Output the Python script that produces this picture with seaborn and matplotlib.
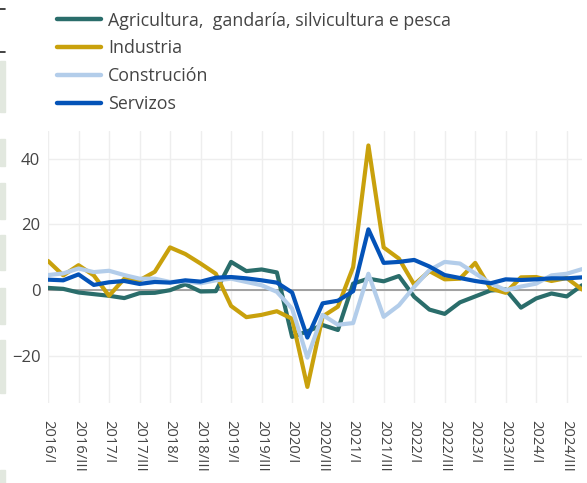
import numpy as np
import pandas as pd
import matplotlib
matplotlib.use("Agg")
import matplotlib.pyplot as plt
import matplotlib.transforms as mtransforms
from matplotlib.patches import Rectangle
from matplotlib.lines import Line2D
import seaborn as sns

quarters = [
    "2016/I", "2016/II", "2016/III", "2016/IV",
    "2017/I", "2017/II", "2017/III", "2017/IV",
    "2018/I", "2018/II", "2018/III", "2018/IV",
    "2019/I", "2019/II", "2019/III", "2019/IV",
    "2020/I", "2020/II", "2020/III", "2020/IV",
    "2021/I", "2021/II", "2021/III", "2021/IV",
    "2022/I", "2022/II", "2022/III", "2022/IV",
    "2023/I", "2023/II", "2023/III", "2023/IV",
    "2024/I", "2024/II", "2024/III", "2024/IV",
]
tick_labels = quarters[::2]

agricultura = [0.7, 0.4, -0.7, -1.2, -1.7, -2.4, -0.9, -0.8, 0.0, 1.8, -0.4, -0.3,
               8.6, 5.8, 6.3, 5.4, -14.2, -12.5, -10.6, -12.1, 2.0, 3.5,
               2.7, 4.3, -2.0, -5.9, -7.2, -3.7, -1.9, -0.1, 0.2, -5.3,
               -2.5, -1.0, -1.9, 1.5]
industria = [8.9, 4.5, 7.6, 4.5, -1.7, 3.5, 3.0, 5.6, 13.0, 11.0, 8.1, 5.0,
             -4.8, -8.2, -7.5, -6.4, -8.7, -29.4, -8.0, -5.0, 7.0, 44.0,
             13.0, 9.6, 1.7, 5.8, 3.3, 3.5, 8.3, 0.5, -0.8, 3.9,
             4.0, 2.8, 3.7, 0.2]
construcion = [4.6, 5.1, 6.6, 5.5, 5.9, 4.6, 3.5, 3.5, 2.5, 2.7, 2.1, 3.0,
               3.5, 2.5, 1.5, -0.5, -5.6, -20.5, -7.5, -10.5, -10.0, 5.0,
               -8.1, -4.6, 1.0, 6.1, 8.6, 8.1, 5.1, 2.1, 0.0, 1.1,
               2.0, 4.5, 5.0, 6.4]
servizos = [3.2, 3.0, 4.8, 1.6, 2.4, 2.8, 1.9, 2.5, 2.3, 3.0, 2.6, 3.8,
            4.0, 3.6, 3.0, 2.3, -0.7, -14.4, -4.0, -3.2, -0.3, 18.5,
            8.3, 8.6, 9.2, 7.2, 4.6, 3.7, 2.8, 2.1, 3.3, 3.1,
            3.3, 3.6, 3.6, 3.9]

series_names = ["Agricultura,  gandaría, silvicultura e pesca", "Industria",
                "Construción", "Servizos"]
colors = ["#2a6d6b", "#c9a10c", "#b3cdea", "#0453b8"]

df = pd.DataFrame({
    "pos": list(range(len(quarters))) * 4,
    "valor": agricultura + industria + construcion + servizos,
    "serie": sum([[n] * len(quarters) for n in series_names], []),
})

sns.set_theme(style="white")
plt.rcParams["font.family"] = ["Open Sans", "DejaVu Sans"]

W, H = 587, 483
fig = plt.figure(figsize=(W / 100, H / 100), dpi=100)
ax_left, ax_right, ax_top, ax_bottom = 48, 582, 131, 403
ax = fig.add_axes([ax_left / W, 1 - ax_bottom / H, (ax_right - ax_left) / W,
                   (ax_bottom - ax_top) / H])

ax.axhline(0, color="#9a9a9a", lw=1.3, zorder=1)
sns.lineplot(data=df, x="pos", y="valor", hue="serie", hue_order=series_names,
             palette=dict(zip(series_names, colors)), lw=3.0, ax=ax,
             legend=False, zorder=3)

ax.set_xlim(0, len(quarters) - 1)
ax.set_ylim(-34.3, 48.4)
ax.set_xticks(range(0, len(quarters), 2))
ax.set_xticklabels(tick_labels, rotation=-90, ha="center", va="top",
                   fontsize=10.6, color="#444444")
offset = mtransforms.ScaledTranslation(-0.04, 0, fig.dpi_scale_trans)
for lab in ax.get_xticklabels():
    lab.set_transform(lab.get_transform() + offset)
ax.set_yticks([-20, 0, 20, 40])
ax.set_yticklabels(["\u221220", "0", "20", "40"], fontsize=12, color="#444444")
ax.tick_params(axis="x", length=0, pad=12)
ax.tick_params(axis="y", length=0, pad=5.5)
ax.grid(True, color="#eeeeee", lw=1)
ax.set_axisbelow(True)
ax.set_xlabel("")
ax.set_ylabel("")
for s in ax.spines.values():
    s.set_visible(False)

handles = [Line2D([0], [0], color=c, lw=3.2) for c in colors]
fig.legend(handles, series_names, loc="upper left",
           bbox_to_anchor=(53 / W, 1 - 8 / H), frameon=False, fontsize=12.8,
           handlelength=2.5, handletextpad=0.4, labelspacing=0.55,
           labelcolor="#444444", borderaxespad=0, borderpad=0.2)

# cropped fragments at the left edge
for y0, y1 in [(61, 112), (139, 166), (183, 219), (235, 270), (288, 324),
               (340, 393), (470, 483)]:
    fig.patches.append(Rectangle((0, 1 - y1 / H), 5 / W, (y1 - y0) / H,
                                 transform=fig.transFigure, color="#e2e8df",
                                 zorder=0))
for yy in [9, 52]:
    fig.lines.append(Line2D([0, 5 / W], [1 - yy / H] * 2,
                            transform=fig.transFigure, color="#222222", lw=1.2))

fig.savefig("out.png", dpi=100)
